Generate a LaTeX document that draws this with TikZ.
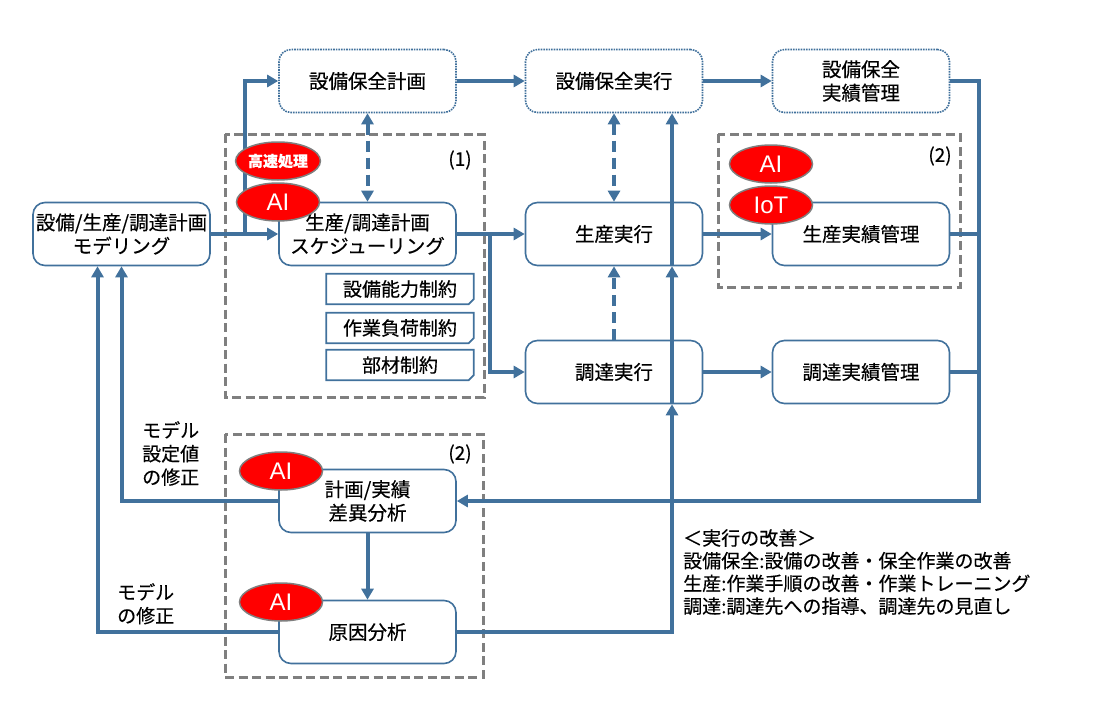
\documentclass[tikz,border=0pt]{standalone}
\usepackage{fontspec}
\setmainfont{Noto Sans CJK JP}[FakeBold=0.4]
\newfontfamily\latinsans{Liberation Sans}
\usetikzlibrary{arrows.meta,shapes.geometric}
\definecolor{ln}{RGB}{65,113,156}
\definecolor{gr}{RGB}{127,127,127}
\definecolor{redf}{RGB}{255,0,0}
\begin{document}
\begin{tikzpicture}[x=1pt,y=-1pt,
  box/.style={draw=ln, line width=1.6pt, rounded corners=12pt, fill=white,
    minimum width=177pt, minimum height=63pt, inner sep=0pt, align=center,
    font=\fontsize{19.5}{23.5}\selectfont},
  dbox/.style={box, densely dotted},
  cstr/.style={minimum width=147pt, minimum height=30pt, inner sep=0pt,
    font=\fontsize{19}{22}\selectfont},
  cline/.style={draw=ln, line width=1.8pt},
  gbox/.style={draw=gr, line width=3pt, dash pattern=on 9pt off 4.5pt},
  conn/.style={draw=ln, line width=4pt},
  arr/.style={conn, -{Triangle[length=11pt,width=12pt]}},
  darr/.style={conn, dash pattern=on 11pt off 6pt,
    {Triangle[length=11pt,width=12pt]}-{Triangle[length=11pt,width=12pt]}},
  sdarr/.style={conn, dash pattern=on 11pt off 6pt, -{Triangle[length=11pt,width=12pt]}},
  redell/.style={ellipse, fill=redf, draw=gr, line width=1.5pt, inner sep=0pt,
    minimum width=83pt, minimum height=38pt, text=white},
  lbl/.style={inner sep=0pt, align=left, font=\fontsize{19}{23.5}\selectfont},
  num/.style={inner sep=0pt, font=\fontsize{19}{22}\selectfont}
]
\useasboundingbox (0,0) rectangle (1104,712);

% dashed grouping boxes
\draw[gbox] (225,134) rectangle (484,397);
\draw[gbox] (718,134) rectangle (960,287);
\draw[gbox] (225,434) rectangle (483,677);
\node[num] (n1) at (460,160) {(1)};
\node[num] (n2) at (940,156) {(2)};
\node[num] (n3) at (460,454) {(2)};

% boxes
\node[dbox] (plan)  at (367.5,81) {設備保全計画};
\node[dbox] (mexec) at (614,81) {設備保全実行};
\node[dbox] (mres)  at (861,81) {設備保全\\実績管理};
\node[box] (model) at (121.5,234) {設備/生産/調達計画\\モデリング};
\node[box] (sched) at (367.5,234) {生産/調達計画\\スケジューリング};
\node[box] (pexec) at (614,234) {生産実行};
\node[box] (pres)  at (861,234) {生産実績管理};
\node[box] (cexec) at (614,372) {調達実行};
\node[box] (cres)  at (861,372) {調達実績管理};
\node[box] (diff)  at (367.5,501) {計画/実績\\差異分析};
\node[box] (cause) at (367.5,632) {原因分析};

% constraint boxes
\node[cstr] (c1) at (400,289) {設備能力制約};
\node[cstr] (c2) at (400,328) {作業負荷制約};
\node[cstr] (c3) at (400,365) {部材制約};
\foreach \c in {c1,c2,c3}{
  \draw[cline] (\c.north west) -- (\c.north east) -- ([yshift=5pt]\c.south east)
    -- ([xshift=-5pt]\c.south east) -- (\c.south west) -- cycle;
}

% side labels
\node[lbl, anchor=north west] (l1) at (142,421) {モデル\\設定値\\の修正};
\node[lbl, anchor=north west] (l2) at (117,583) {モデル\\の修正};
\node[inner sep=0pt, anchor=north west, align=left,
  font=\fontsize{19}{22.7}\selectfont] (note) at (683,529)
  {＜実行の改善＞\\設備保全:設備の改善・保全作業の改善\\生産:作業手順の改善・作業トレーニング\\調達:調達先への指導、調達先の見直し};

% connectors
\coordinate (b1) at (245,234);
\coordinate (b2) at (490,234);
\draw[arr] (model.east) -- (sched.west);
\draw[arr] (b1) |- (plan.west);
\draw[arr] (plan.east) -- (mexec.west);
\draw[arr] (mexec.east) -- (mres.west);
\draw[arr] (sched.east) -- (pexec.west);
\draw[arr] (b2) |- (cexec.west);
\draw[arr] (pexec.east) -- (pres.west);
\draw[arr] (cexec.east) -- (cres.west);

\draw[darr] (plan.south) -- (sched.north);
\draw[darr] (mexec.south) -- (pexec.north);
\draw[sdarr] (cexec.north) -- (pexec.south);

\coordinate (r0) at (979,501);
\draw[arr] (mres.east) -| (r0) -- (diff.east);
\draw[conn] (pres.east) -- (pres.east -| r0);
\draw[conn] (cres.east) -- (cres.east -| r0);

\coordinate (v0) at (672,632);
\draw[arr] (cause.east) -- (v0) -- (cexec.south -| v0);
\draw[arr] (cexec.south -| v0) -- (pexec.south -| v0);
\draw[arr] (pexec.south -| v0) -- (mexec.south -| v0);

\draw[arr] (diff.west) -| (model.south);
\draw[arr] (cause.west) -| ([xshift=-24pt]model.south);
\draw[arr] (diff.south) -- (cause.north);

% red badges
\node[redell, font=\fontsize{15}{15}\selectfont\bfseries] (e1) at (278,161) {高速処理};
\node[redell, font=\latinsans\fontsize{24}{24}\selectfont] (e2) at (278,202) {AI};
\node[redell, font=\latinsans\fontsize{24}{24}\selectfont] (e3) at (771,164) {AI};
\node[redell, font=\latinsans\fontsize{24}{24}\selectfont] (e4) at (771,205) {IoT};
\node[redell, font=\latinsans\fontsize{24}{24}\selectfont] (e5) at (281,471) {AI};
\node[redell, font=\latinsans\fontsize{24}{24}\selectfont] (e6) at (281,602) {AI};
\end{tikzpicture}
\end{document}
